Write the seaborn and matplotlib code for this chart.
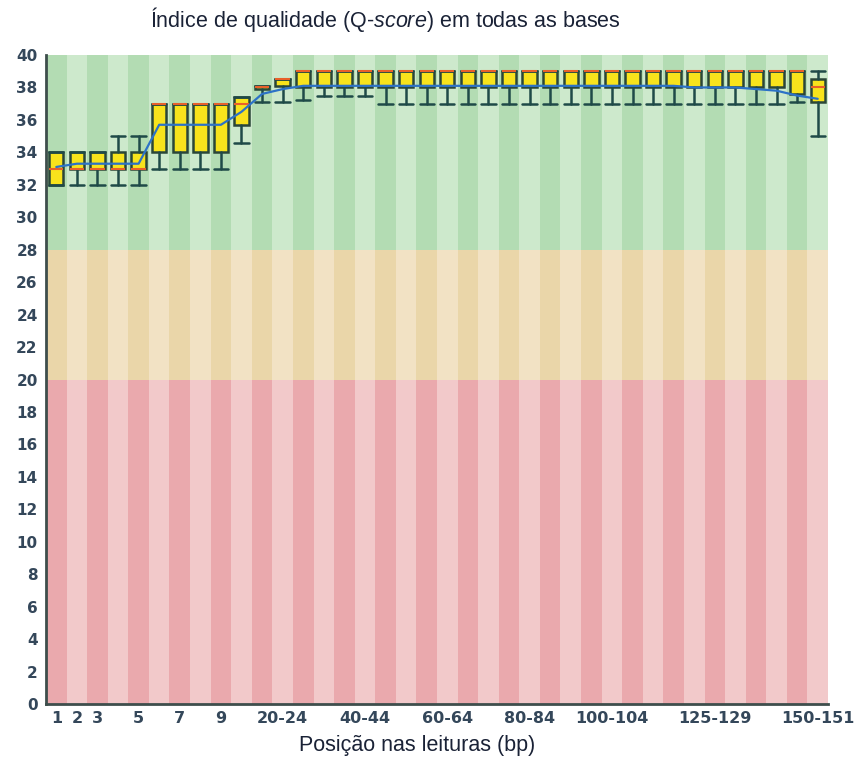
import matplotlib
matplotlib.use("Agg")
import matplotlib.pyplot as plt
import seaborn as sns
import pandas as pd

# ---- data ----
categories = ["1", "2", "3", "4", "5", "6", "7", "8", "9",
              "10-14", "15-19", "20-24", "25-29", "30-34", "35-39", "40-44",
              "45-49", "50-54", "55-59", "60-64", "65-69", "70-74", "75-79",
              "80-84", "85-89", "90-94", "95-99", "100-104", "105-109",
              "110-114", "115-119", "120-124", "125-129", "130-134",
              "135-139", "140-144", "145-149", "150-151"]
shown_labels = ["1", "2", "3", "5", "7", "9", "20-24", "40-44", "60-64",
                "80-84", "100-104", "125-129", "150-151"]

q1 = [32, 33, 33, 33, 33, 34, 34, 34, 34, 35.7, 37.9, 38.1,
      38, 38, 38, 38, 38, 38, 38, 38, 38, 38, 38, 38, 38, 38, 38, 38, 38,
      38, 38, 38, 38, 38, 38, 38, 37.6, 37.1]
median = [33, 33, 33, 33, 33, 37, 37, 37, 37, 37.0, 38.0, 38.5,
          39, 39, 39, 39, 39, 39, 39, 39, 39, 39, 39, 39, 39, 39, 39, 39, 39,
          39, 39, 39, 39, 39, 39, 39, 39, 38.0]
q3 = [34, 34, 34, 34, 34, 37, 37, 37, 37, 37.4, 38.1, 38.5,
      39, 39, 39, 39, 39, 39, 39, 39, 39, 39, 39, 39, 39, 39, 39, 39, 39,
      39, 39, 39, 39, 39, 39, 39, 39, 38.5]
p10 = [32, 32, 32, 32, 32, 33, 33, 33, 33, 34.6, 37.1, 37.1,
       37.2, 37.5, 37.5, 37.5, 37, 37, 37, 37, 37, 37, 37, 37, 37, 37, 37,
       37, 37, 37, 37, 37, 37, 37, 37, 37, 37.1, 35.0]
p90 = [34, 34, 34, 35, 35, 37, 37, 37, 37, 37.4, 38.1, 38.5,
       39, 39, 39, 39, 39, 39, 39, 39, 39, 39, 39, 39, 39, 39, 39, 39, 39,
       39, 39, 39, 39, 39, 39, 39, 39, 39.0]
mean = [33.1, 33.3, 33.3, 33.3, 33.3, 35.7, 35.7, 35.7, 35.7, 36.5, 37.6, 37.9,
        38.1, 38.1, 38.1, 38.1, 38.1, 38.1, 38.1, 38.1, 38.1, 38.1, 38.1,
        38.1, 38.1, 38.1, 38.1, 38.1, 38.1, 38.1, 38.1, 38.0, 38.0, 38.0,
        37.9, 37.8, 37.5, 37.3]

bands = [(0, 20, "#EAA9AD", "#F2C9CA"),
         (20, 28, "#EAD6A9", "#F2E2C4"),
         (28, 40, "#B3DCB3", "#CDE9CC")]

# ---- figure ----
sns.set_theme(style="white")
plt.rcParams["font.family"] = ["DejaVu Sans"]
plt.rcParams["mathtext.fontset"] = "custom"
plt.rcParams["mathtext.rm"] = "Liberation Sans"
plt.rcParams["mathtext.it"] = "Liberation Sans:italic"

fig = plt.figure(figsize=(8.58, 7.58), dpi=100)
W, H = 858, 758
L, R, T, B = 46, 828, 55, 704
ax = fig.add_axes([L / W, 1 - B / H, (R - L) / W, (B - T) / H])

n = len(categories)
for i in range(n):
    for lo, hi, dark, light in bands:
        ax.fill_between([i - 0.5, i + 0.5], lo, hi,
                        color=dark if i % 2 == 0 else light, lw=0, zorder=0)

stats = []
for i in range(n):
    stats.append(dict(med=median[i], q1=q1[i], q3=q3[i],
                      whislo=p10[i], whishi=p90[i], fliers=[]))

ax.bxp(stats, positions=list(range(n)), widths=0.7, capwidths=0.7,
       patch_artist=True, showfliers=False,
       boxprops=dict(facecolor="#F8E31C", edgecolor="#2A4638", linewidth=1.8),
       whiskerprops=dict(color="#1F4A48", linewidth=1.8),
       capprops=dict(color="#1F4A48", linewidth=1.8),
       medianprops=dict(color="#E8602A", linewidth=1.5),
       manage_ticks=False, zorder=3)

df = pd.DataFrame({"pos": list(range(n)), "mean": mean})
sns.lineplot(data=df, x="pos", y="mean", ax=ax, color="#2C72C6",
             linewidth=1.6, zorder=4)

ax.set_xlim(-0.5, n - 0.5)
ax.set_ylim(0, 40)
ax.set_yticks(range(0, 41, 2))
ax.set_yticklabels([str(v) for v in range(0, 41, 2)])
tick_pos = [categories.index(c) for c in shown_labels]
ax.set_xticks(tick_pos)
ax.set_xticklabels(shown_labels)
ax.tick_params(axis="both", length=0, colors="#34475A")
ax.tick_params(axis="y", pad=6)
ax.tick_params(axis="x", pad=5)
for lab in ax.get_yticklabels():
    lab.set_fontweight("bold")
    lab.set_fontsize(11)
for lab in ax.get_xticklabels():
    lab.set_fontweight("bold")
    lab.set_fontsize(11.5)
ax.set_xlabel("")
ax.set_ylabel("")
for s in ["top", "right"]:
    ax.spines[s].set_visible(False)
for s in ["left", "bottom"]:
    ax.spines[s].set_color("#3E4E4C")
    ax.spines[s].set_linewidth(2)

fig.text(385 / W, 1 - 20 / H,
         r"Índice de qualidade (Q-$\it{score}$) em todas as bases",
         ha="center", va="center", fontsize=15.5,
         family="Liberation Sans", color="#1A2236")
fig.text(417 / W, 1 - 745 / H, "Posição nas leituras (bp)",
         ha="center", va="center", fontsize=15.5,
         family="Liberation Sans", color="#1A2236")

fig.savefig("out.png", dpi=100)
